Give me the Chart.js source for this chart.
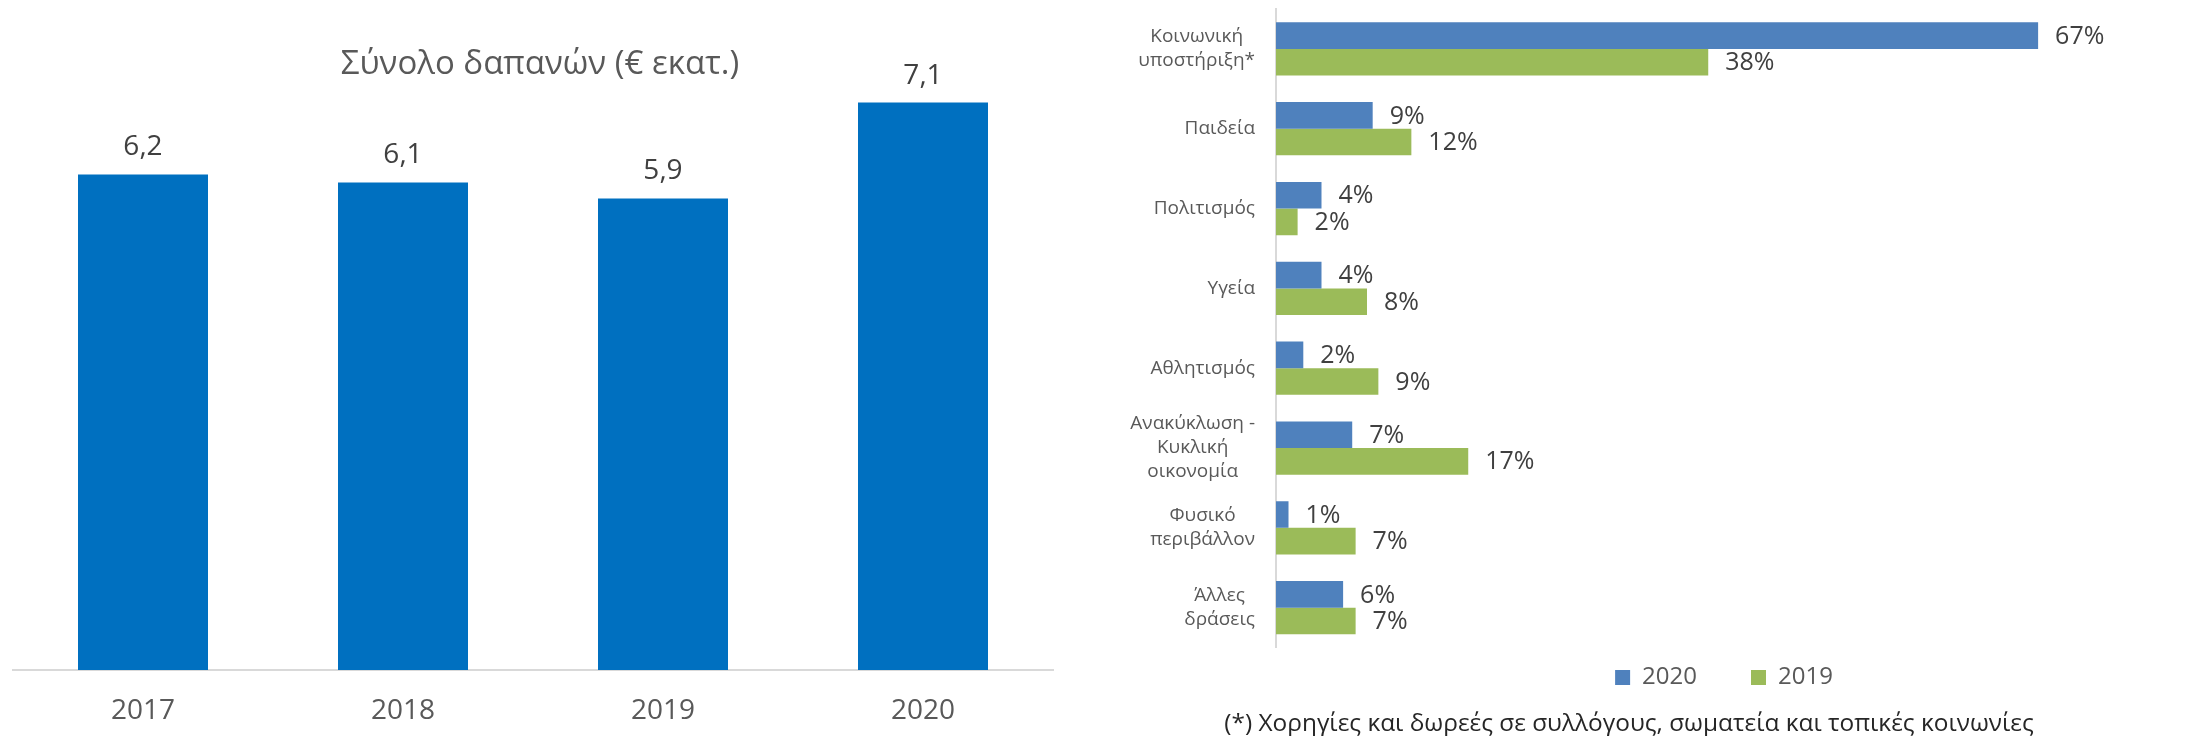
<!DOCTYPE html>
<html>
<head>
<meta charset="utf-8">
<script src="https://cdn.jsdelivr.net/npm/chart.js@4.4.0/dist/chart.umd.min.js"></script>
<style>
  html, body { margin: 0; padding: 0; background: #fff; }
  body { width: 2206px; height: 736px; position: relative; overflow: hidden; }
  #wrapTotal { position: absolute; left: 0; top: 0; width: 1082px; height: 736px; }
  #wrapSectors { position: absolute; left: 1060px; top: 0; width: 1146px; height: 736px; }
</style>
</head>
<body>
<div id="wrapTotal"><canvas id="totalChart"></canvas></div>
<div id="wrapSectors"><canvas id="sectorChart"></canvas></div>
<script>
// left chart: total spend per year (EUR m)
const years = ['2017', '2018', '2019', '2020'];
const totalSpend = [6.2, 6.1, 5.9, 7.1];

// right chart: share of spend per area
const sectors = [
  ['Κοινωνική', 'υποστήριξη*'],
  'Παιδεία',
  'Πολιτισμός',
  'Υγεία',
  'Αθλητισμός',
  ['Ανακύκλωση -', 'Κυκλική', 'οικονομία'],
  ['Φυσικό', 'περιβάλλον'],
  ['Άλλες', 'δράσεις'],
];
const share2020 = [67.0, 8.5, 4.0, 4.0, 2.4, 6.7, 1.1, 5.9];
const share2019 = [38.0, 11.9, 1.9, 8.0, 9.0, 16.9, 7.0, 7.0];

const footnote = '(*) Χορηγίες και δωρεές σε συλλόγους, σωματεία και τοπικές κοινωνίες';

Chart.defaults.font.family = "'Open Sans', 'Noto Sans', sans-serif";
Chart.defaults.animation = false;

// draws the value next to each bar
const valueLabels = {
  id: 'valueLabels',
  afterDatasetsDraw(chart, args, opts) {
    const ctx = chart.ctx;
    ctx.save();
    ctx.font = opts.size + 'px ' + Chart.defaults.font.family;
    ctx.fillStyle = opts.color;
    ctx.textBaseline = 'middle';
    chart.data.datasets.forEach((ds, i) => {
      chart.getDatasetMeta(i).data.forEach((bar, j) => {
        const text = opts.format(ds.data[j]);
        if (chart.options.indexAxis === 'y') {
          ctx.textAlign = 'left';
          ctx.fillText(text, bar.x + opts.offset, bar.y + 1);
        } else {
          ctx.textAlign = 'center';
          ctx.fillText(text, bar.x, bar.y - opts.offset);
        }
      });
    });
    ctx.restore();
  },
};

// category labels: lines centred on each other, block right-aligned to the axis
const centredTicks = {
  id: 'centredTicks',
  afterDraw(chart, args, opts) {
    const scale = chart.scales.y;
    const ctx = chart.ctx;
    ctx.save();
    ctx.font = opts.size + 'px ' + Chart.defaults.font.family;
    ctx.fillStyle = opts.color;
    ctx.textAlign = 'center';
    ctx.textBaseline = 'middle';
    scale.ticks.forEach((t, i) => {
      const lines = [].concat(chart.data.labels[i]);
      const w = Math.max(...lines.map((l) => ctx.measureText(l).width));
      const cx = scale.right - opts.gap - w / 2;
      const cy = scale.getPixelForTick(i);
      lines.forEach((l, k) => {
        ctx.fillText(l, cx, cy + (k - (lines.length - 1) / 2) * opts.lineHeight);
      });
    });
    ctx.restore();
  },
};

new Chart(document.getElementById('totalChart'), {
  type: 'bar',
  data: {
    labels: years,
    datasets: [{
      label: 'Σύνολο δαπανών (€ εκατ.)',
      data: totalSpend,
      backgroundColor: '#0070C0',
      categoryPercentage: 1,
      barPercentage: 0.5,
    }],
  },
  options: {
    responsive: true,
    maintainAspectRatio: false,
    layout: { padding: { left: 13, right: 15, top: 0, bottom: 8 } },
    plugins: {
      legend: { display: false },
      tooltip: { enabled: false },
      title: {
        display: true,
        text: 'Σύνολο δαπανών (€ εκατ.)',
        color: '#595959',
        font: { size: 33, weight: 'normal' },
        padding: { top: 45, bottom: 10 },
      },
      valueLabels: {
        size: 28,
        color: '#404040',
        offset: 27,
        format: (v) => v.toFixed(1).replace('.', ','),
      },
    },
    scales: {
      x: {
        grid: { display: false, drawTicks: false },
        border: { display: true, color: '#D9D9D9', width: 2 },
        ticks: { color: '#595959', font: { size: 28 }, padding: 24 },
        afterFit(scale) { scale.height = 58; },
      },
      // empty axis on the right, only used to keep the plot narrower than the title box
      y: {
        position: 'right',
        min: 0,
        max: 7.2,
        grid: { display: false, drawTicks: false },
        border: { display: false },
        ticks: { display: false },
        afterFit(scale) { scale.width = 14; },
      },
    },
  },
  plugins: [valueLabels],
});

new Chart(document.getElementById('sectorChart'), {
  type: 'bar',
  data: {
    labels: sectors,
    datasets: [
      { label: '2020', data: share2020, backgroundColor: '#4F81BD' },
      { label: '2019', data: share2019, backgroundColor: '#9BBB59' },
    ],
  },
  options: {
    indexAxis: 'y',
    responsive: true,
    maintainAspectRatio: false,
    datasets: { bar: { categoryPercentage: 0.667, barPercentage: 1 } },
    layout: { padding: { left: 26, right: 34, top: 9, bottom: 0 } },
    plugins: {
      tooltip: { enabled: false },
      legend: {
        position: 'bottom',
        fullSize: false,
        labels: {
          color: '#595959',
          font: { size: 24 },
          boxWidth: 15,
          boxHeight: 15,
          padding: 18,
          generateLabels(chart) {
            const items = Chart.defaults.plugins.legend.labels.generateLabels(chart);
            items.forEach((it, i) => {
              it.lineWidth = 0;
              if (i < items.length - 1) it.text = it.text + '\u2003\u2002';
            });
            return items;
          },
        },
      },
      title: {
        display: true,
        position: 'bottom',
        text: footnote,
        color: '#262626',
        font: { size: 24.4, weight: 'normal', lineHeight: 1 },
        padding: { top: 12, bottom: 0 },
      },
      valueLabels: {
        size: 25,
        color: '#404040',
        offset: 17,
        format: (v) => Math.round(v) + '%',
      },
      centredTicks: { size: 19, color: '#595959', gap: 21, lineHeight: 24 },
    },
    scales: {
      x: { display: false, min: 0, max: 78.77 },
      y: {
        grid: { display: false, drawTicks: false },
        border: { display: true, color: '#D9D9D9', width: 2 },
        ticks: { display: false },
        afterFit(scale) { scale.width = 190; },
      },
    },
  },
  plugins: [valueLabels, centredTicks],
});
</script>
</body>
</html>
